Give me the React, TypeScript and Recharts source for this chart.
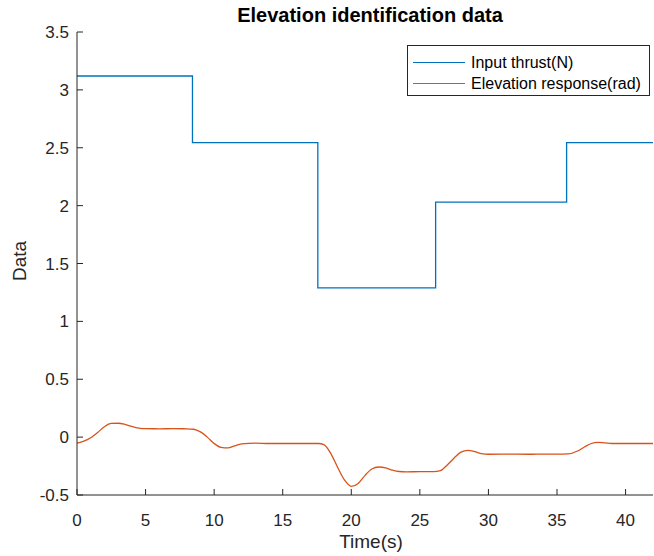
import { LineChart, Line, XAxis, YAxis } from 'recharts';

// step input: switching times and held values
const thrustTimes = [0, 8.42, 17.56, 26.15, 35.7, 42];
const thrustValues = [3.12, 2.545, 1.29, 2.03, 2.545, 2.545];

// elevation response
const responseTimes = [
    0, 0.5, 1, 1.5, 2, 2.5, 3, 3.5, 4, 4.5, 5, 6, 7, 8, 8.5, 9, 9.5, 10, 10.5, 11,
    11.5, 12, 13, 14, 15, 16, 17, 17.6, 18, 18.5, 19, 19.5, 20, 20.5, 21, 21.5, 22,
    22.5, 23, 23.5, 24, 25, 26, 26.5, 27, 27.5, 28, 28.5, 29, 29.5, 30, 31, 32, 33,
    34, 35, 35.8, 36.5, 37, 37.5, 38, 38.5, 39, 40, 41, 42,
];
const responseValues = [
    -0.052, -0.035, -0.005, 0.04, 0.09, 0.118, 0.12, 0.11, 0.092, 0.078, 0.073,
    0.072, 0.073, 0.072, 0.068, 0.045, 0.0, -0.055, -0.088, -0.093, -0.075, -0.058,
    -0.052, -0.055, -0.055, -0.055, -0.055, -0.055, -0.065, -0.14, -0.26, -0.37,
    -0.425, -0.4, -0.33, -0.275, -0.258, -0.265, -0.285, -0.297, -0.3, -0.298,
    -0.298, -0.29, -0.24, -0.18, -0.13, -0.115, -0.125, -0.143, -0.148, -0.147,
    -0.147, -0.148, -0.147, -0.147, -0.145, -0.12, -0.085, -0.055, -0.045, -0.05,
    -0.055, -0.055, -0.055, -0.055,
];

const xTicks = [0, 5, 10, 15, 20, 25, 30, 35, 40];
const yTicks = [-0.5, 0, 0.5, 1, 1.5, 2, 2.5, 3, 3.5];

const seriesNames = ['Input thrust(N)', 'Elevation response(rad)'];
const colors = ['#0072BD', '#D95319'];

const thrustData = thrustTimes.map((t, i) => ({ t, v: thrustValues[i] }));
const responseData = responseTimes.map((t, i) => ({ t, v: responseValues[i] }));

const font = '"Liberation Sans", Arial, sans-serif';
const ink = '#262626';

const App = () => {
    const tickStyle = { fill: ink, fontSize: 17, fontFamily: font };
    return (
        <div style={{ position: 'absolute', left: 0, top: 0, width: 654, height: 556, background: '#fff' }}>
            <LineChart
                width={654}
                height={556}
                margin={{ top: 32, right: 1, left: 0, bottom: 0 }}
            >
                <XAxis
                    dataKey='t'
                    type='number'
                    domain={[0, 42]}
                    ticks={xTicks}
                    allowDataOverflow
                    height={61}
                    tickSize={-6}
                    tickMargin={25}
                    stroke={ink}
                    tick={tickStyle}
                />
                <XAxis
                    xAxisId='top'
                    dataKey='t'
                    type='number'
                    orientation='top'
                    domain={[0, 42]}
                    ticks={xTicks}
                    height={0}
                    tickSize={-6}
                    tick={false}
                    stroke={ink}
                />
                <YAxis
                    type='number'
                    domain={[-0.5, 3.5]}
                    ticks={yTicks}
                    width={77}
                    tickSize={-6}
                    tickMargin={14}
                    stroke={ink}
                    tick={tickStyle}
                />
                <YAxis
                    yAxisId='right'
                    type='number'
                    orientation='right'
                    domain={[-0.5, 3.5]}
                    ticks={yTicks}
                    width={0}
                    tickSize={-6}
                    tick={false}
                    stroke={ink}
                />
                <Line
                    data={thrustData}
                    dataKey='v'
                    type='stepAfter'
                    stroke={colors[0]}
                    strokeWidth={1.3}
                    dot={false}
                    isAnimationActive={false}
                />
                <Line
                    data={responseData}
                    dataKey='v'
                    type='monotone'
                    stroke={colors[1]}
                    strokeWidth={1.3}
                    dot={false}
                    isAnimationActive={false}
                />
            </LineChart>

            <div style={{ position: 'absolute', left: 0, width: 740, top: 4, textAlign: 'center', fontFamily: font, fontWeight: 'bold', fontSize: 20, color: '#000', lineHeight: '23px' }}>
                Elevation identification data
            </div>
            <div style={{ position: 'absolute', left: 0, width: 742, top: 532, textAlign: 'center', fontFamily: font, fontSize: 19, color: ink, lineHeight: '19px' }}>
                Time(s)
            </div>
            <div style={{ position: 'absolute', left: 20, top: 261, transform: 'translate(-50%, -50%) rotate(-90deg)', fontFamily: font, fontSize: 19, color: ink, whiteSpace: 'nowrap' }}>
                Data
            </div>

            <div style={{ position: 'absolute', left: 407, top: 45, width: 241, height: 49, border: `1px solid ${ink}`, background: '#fff', fontFamily: font, fontSize: 16, color: '#000' }}>
                {seriesNames.map((name, i) => (
                    <div key={name} style={{ display: 'flex', alignItems: 'center', height: 21, marginTop: i === 0 ? 6 : 0 }}>
                        <div style={{ width: 52, height: 0, borderTop: `1.3px solid ${colors[i]}`, marginLeft: 5, marginRight: 6 }} />
                        <span>{name}</span>
                    </div>
                ))}
            </div>
        </div>
    );
};

export default App;
